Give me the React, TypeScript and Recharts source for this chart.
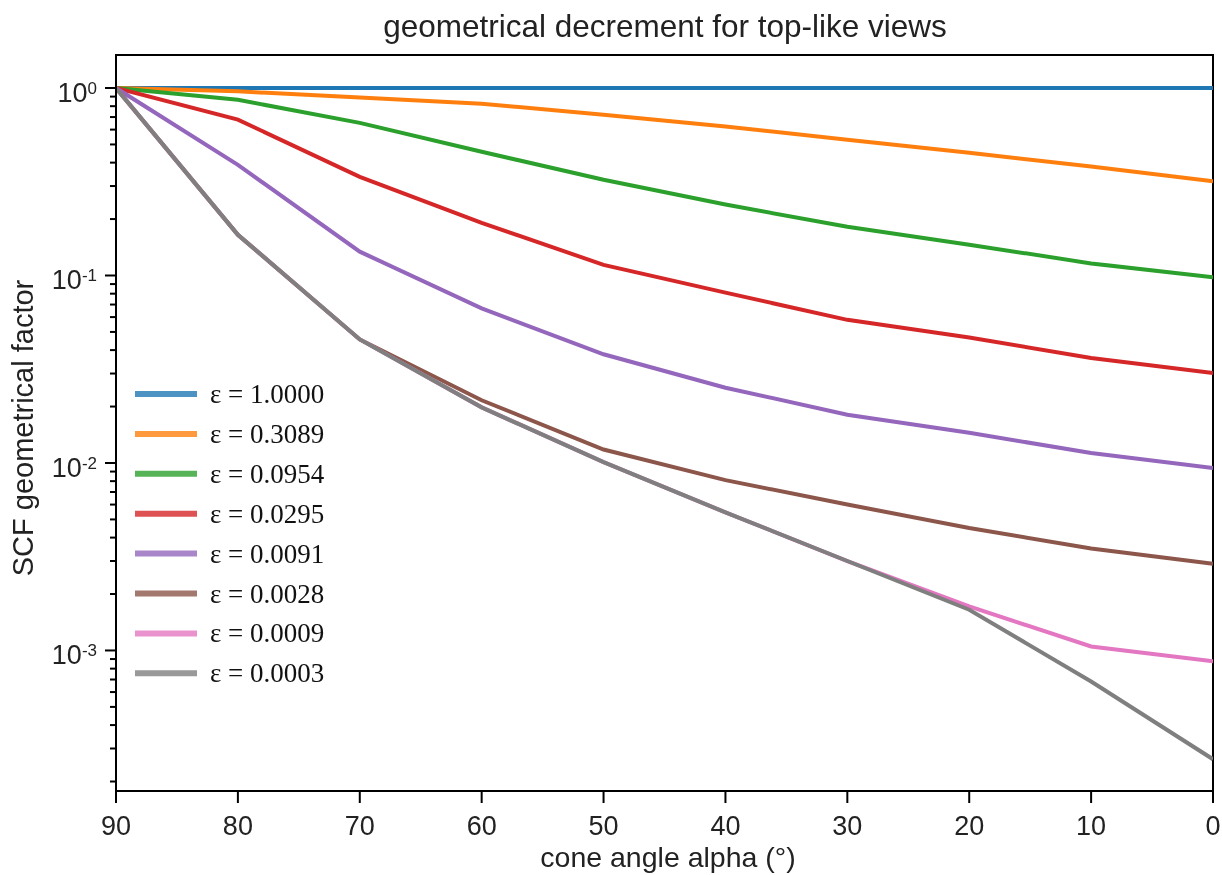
import React from "react";
import { LineChart, Line, XAxis, YAxis, ReferenceArea } from "recharts";

const angles = [90, 80, 70, 60, 50, 40, 30, 20, 10, 0];
const seriesNames = [
  "ε = 1.0000",
  "ε = 0.3089",
  "ε = 0.0954",
  "ε = 0.0295",
  "ε = 0.0091",
  "ε = 0.0028",
  "ε = 0.0009",
  "ε = 0.0003",
];
const colors = ["#1f77b4", "#ff7f0e", "#2ca02c", "#d62728", "#9467bd", "#8c564b", "#e377c2", "#7f7f7f"];

const eps10000 = [1, 1, 1, 1, 1, 1, 1, 1, 1, 1];
const eps3089 = [1, 0.96, 0.89, 0.825, 0.72, 0.624, 0.53, 0.452, 0.381, 0.318];
const eps0954 = [1, 0.865, 0.652, 0.457, 0.324, 0.239, 0.182, 0.146, 0.116, 0.098];
const eps0295 = [1, 0.678, 0.336, 0.191, 0.114, 0.081, 0.058, 0.0467, 0.0363, 0.0302];
const eps0091 = [1, 0.389, 0.134, 0.0668, 0.038, 0.0252, 0.0181, 0.0145, 0.0113, 0.0094];
const eps0028 = [1, 0.165, 0.0456, 0.0216, 0.0118, 0.0081, 0.006, 0.0045, 0.0035, 0.0029];
const eps0009 = [1, 0.165, 0.0456, 0.0198, 0.0101, 0.00545, 0.003, 0.00172, 0.00105, 0.000875];
const eps0003 = [1, 0.165, 0.0456, 0.0198, 0.0101, 0.00545, 0.003, 0.00165, 0.000683, 0.000263];

const allSeries = [eps10000, eps3089, eps0954, eps0295, eps0091, eps0028, eps0009, eps0003];

const xTicks = [90, 80, 70, 60, 50, 40, 30, 20, 10, 0];
const yMajorExponents = [-3, -2, -1, 0];
const yMinorMultipliers = [2, 3, 4, 5, 6, 7, 8, 9];
const yDomain = [1.78e-4, 1.5];

const yTicks: number[] = [];
[-4, -3, -2, -1, 0].forEach((e) => {
  yTicks.push(Math.pow(10, e));
  yMinorMultipliers.forEach((m) => yTicks.push(m * Math.pow(10, e)));
});
const yTicksIn = yTicks.filter((v) => v >= yDomain[0] && v <= yDomain[1]);

const data = angles.map((a, i) => {
  const row: any = { x: a };
  allSeries.forEach((s, k) => {
    row["s" + k] = s[i];
  });
  return row;
});

const SANS = "'Liberation Sans', Arial, sans-serif";
const SERIF = "'Liberation Serif', 'Times New Roman', serif";

const YTick = (props: any) => {
  const { x, y, payload } = props;
  const v = payload.value;
  const lg = Math.log10(v);
  const exp = Math.round(lg);
  const isMajor = Math.abs(lg - exp) < 1e-6 && yMajorExponents.includes(exp);
  return (
    <g>
      <line x1={x} x2={x - (isMajor ? 11 : 6)} y1={y} y2={y} stroke="#000" strokeWidth={2} />
      {isMajor && (
        <text x={x - 19} y={y + 14} textAnchor="end" fontFamily={SANS} fontSize={27} fill="#222">
          <tspan>10</tspan>
          <tspan dy={-8} fontSize={17}>{String(exp)}</tspan>
        </text>
      )}
    </g>
  );
};

export default function App() {
  return (
    <div style={{ position: "fixed", left: 8, top: 8, width: 1214, height: 867 }}>
      <LineChart
        width={1214}
        height={867}
        data={data}
        margin={{ top: 47, right: 9, bottom: 24, left: 48 }}
      >
        <XAxis
          dataKey="x"
          type="number"
          domain={[0, 90]}
          reversed
          ticks={xTicks}
          tickSize={12}
          tickMargin={13}
          height={60}
          axisLine={{ stroke: "#000", strokeWidth: 2 }}
          tickLine={{ stroke: "#000", strokeWidth: 2 }}
          tick={{ fontFamily: SANS, fontSize: 27, fill: "#222" }}
          allowDataOverflow
        />
        <YAxis
          type="number"
          scale="log"
          domain={yDomain}
          allowDataOverflow
          ticks={yTicksIn}
          interval={0}
          tickSize={0}
          tickMargin={0}
          width={60}
          axisLine={{ stroke: "#000", strokeWidth: 2 }}
          tickLine={false}
          tick={<YTick />}
        />
        <ReferenceArea
          x1={90}
          x2={0}
          y1={yDomain[0]}
          y2={yDomain[1]}
          fill="none"
          stroke="#000"
          strokeWidth={2}
          ifOverflow="visible"
        />
        {allSeries.map((_, k) => (
          <Line
            key={k}
            type="linear"
            dataKey={"s" + k}
            name={seriesNames[k]}
            stroke={colors[k]}
            strokeWidth={4}
            dot={false}
            activeDot={false}
            isAnimationActive={false}
          />
        ))}
      </LineChart>
      <svg
        width={1214}
        height={867}
        style={{ position: "absolute", left: 0, top: 0, pointerEvents: "none" }}
      >
        <text x={657} y={29} textAnchor="middle" fontFamily={SANS} fontSize={31.5} fill="#222">
          geometrical decrement for top-like views
        </text>
        <text x={660} y={859} textAnchor="middle" fontFamily={SANS} fontSize={28.5} fill="#222">
          cone angle alpha (°)
        </text>
        <text
          x={0}
          y={0}
          transform="translate(25, 420) rotate(-90)"
          textAnchor="middle"
          fontFamily={SANS}
          fontSize={29}
          fill="#222"
        >
          SCF geometrical factor
        </text>
        {seriesNames.map((name, i) => (
          <g key={name}>
            <line
              x1={127}
              x2={189}
              y1={386 + i * 39.9}
              y2={386 + i * 39.9}
              stroke={colors[i]}
              strokeOpacity={0.8}
              strokeWidth={6}
            />
            <text x={202} y={395 + i * 39.9} fontFamily={SERIF} fontSize={27} fill="#111">
              {name}
            </text>
          </g>
        ))}
      </svg>
    </div>
  );
}
